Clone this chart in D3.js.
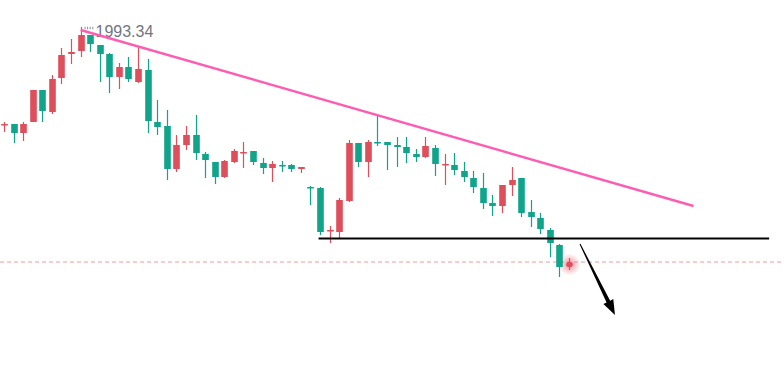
<!DOCTYPE html>
<html>
<head>
<meta charset="utf-8">
<script src="https://cdn.jsdelivr.net/npm/d3@7"></script>
<style>
  html, body { margin: 0; padding: 0; background: #fff; }
  svg { display: block; }
</style>
</head>
<body>
<svg id="chart" width="784" height="388"></svg>
<script>
const open = [1944.3, 1944.8, 1940.3, 1945.8, 1961.8, 1950.8, 1967.8, 1979.8, 1981.3, 1989.3,
  1984.3, 1979.8, 1968.3, 1973.3, 1965.8, 1971.8, 1945.8, 1943.8, 1922.3, 1934.3,
  1939.3, 1929.8, 1925.8, 1918.3, 1925.8, 1930.3, 1931.3, 1925.3, 1922.8, 1924.3,
  1924.3, 1922.3, 1913.3, 1912.8, 1891.3, 1890.8, 1906.3, 1935.3, 1925.8, 1935.8,
  1935.8, 1934.3, 1933.3, 1929.8, 1928.3, 1932.8, 1924.3, 1924.3, 1921.3, 1917.8,
  1912.8, 1905.3, 1903.8, 1914.3, 1917.8, 1900.8, 1897.8, 1891.8, 1884.3, 1873.3];
const high = [1945.8, 1944.8, 1945.8, 1961.8, 1961.8, 1969.3, 1982.8, 1987.3, 1993.34, 1989.3,
  1984.3, 1980.3, 1975.3, 1978.3, 1983.3, 1977.3, 1956.8, 1951.8, 1939.3, 1943.8,
  1949.3, 1930.8, 1925.8, 1926.8, 1932.3, 1935.8, 1931.3, 1927.8, 1926.3, 1926.3,
  1924.8, 1923.3, 1913.8, 1913.3, 1893.8, 1907.8, 1936.8, 1935.3, 1936.8, 1948.8,
  1935.8, 1938.3, 1938.3, 1932.3, 1938.3, 1934.3, 1929.8, 1930.3, 1925.8, 1921.3,
  1920.3, 1909.3, 1914.3, 1923.3, 1917.8, 1906.8, 1900.3, 1892.8, 1884.8, 1877.8];
const low = [1940.8, 1935.3, 1936.3, 1945.8, 1945.8, 1949.8, 1964.8, 1974.8, 1978.3, 1980.8,
  1965.8, 1960.3, 1962.3, 1965.8, 1965.3, 1940.3, 1939.3, 1916.8, 1920.8, 1931.8,
  1926.8, 1917.8, 1914.8, 1917.8, 1925.3, 1922.8, 1924.3, 1919.8, 1915.8, 1920.8,
  1920.8, 1920.3, 1904.3, 1889.3, 1885.3, 1887.8, 1905.8, 1923.3, 1918.3, 1933.8,
  1921.8, 1923.3, 1925.3, 1925.8, 1927.8, 1918.8, 1914.3, 1919.3, 1915.8, 1910.3,
  1902.3, 1898.8, 1900.3, 1908.8, 1898.3, 1893.3, 1889.8, 1878.3, 1868.3, 1871.8];
const close = [1944.8, 1940.3, 1944.8, 1961.8, 1951.3, 1967.3, 1979.3, 1980.8, 1989.3, 1984.8,
  1979.8, 1968.3, 1973.3, 1967.3, 1972.3, 1946.3, 1943.3, 1922.3, 1934.3, 1939.3,
  1930.3, 1926.8, 1918.3, 1926.3, 1931.3, 1930.8, 1925.8, 1922.8, 1924.8, 1923.8,
  1922.3, 1923.3, 1912.8, 1890.8, 1891.8, 1906.8, 1935.3, 1925.8, 1935.8, 1935.3,
  1934.3, 1933.3, 1930.3, 1928.3, 1933.8, 1924.8, 1924.8, 1921.8, 1918.3, 1913.3,
  1905.3, 1903.8, 1914.3, 1916.8, 1900.3, 1898.3, 1892.3, 1885.3, 1873.3, 1875.8];

// drawings: [bar index, price]
const trendLine = [[8, 1991.8], [72, 1903.8]];
const supportLine = [[32.85, 1887.55], [79.9, 1887.55]];
const arrowLine = [[60.15, 1884.8], [63.8, 1849.3]];

const upColor = '#df4e5b';
const downColor = '#10a58a';

const svg = d3.select('#chart');
const x = d3.scaleLinear().domain([0, 59]).range([4, 569]);
const y = d3.scaleLinear().domain([1812.8, 2006.8]).range([388, 0]);

const bars = open.map((o, i) => ({ i, o, h: high[i], l: low[i], c: close[i] }));
const bodyW = 6.6;
const lastClose = close[close.length - 1];

// last price dashed line
svg.append('line')
  .attr('x1', 0).attr('x2', 784)
  .attr('y1', y(lastClose)).attr('y2', y(lastClose))
  .attr('stroke', '#f19a9f')
  .attr('stroke-width', 1)
  .attr('stroke-dasharray', '4,3');

// glow on the live candle
const defs = svg.append('defs');
const grad = defs.append('radialGradient').attr('id', 'glow');
grad.append('stop').attr('offset', '0%').attr('stop-color', '#ef5360').attr('stop-opacity', 0.6);
grad.append('stop').attr('offset', '45%').attr('stop-color', '#ef5360').attr('stop-opacity', 0.35);
grad.append('stop').attr('offset', '100%').attr('stop-color', '#ef5360').attr('stop-opacity', 0);
const last = bars[bars.length - 1];
svg.append('circle')
  .attr('cx', Math.round(x(last.i)) + 0.5)
  .attr('cy', y((last.o + last.c) / 2))
  .attr('r', 11)
  .attr('fill', 'url(#glow)');

// candles
const g = svg.append('g');
g.selectAll('.wick')
  .data(bars)
  .enter()
  .append('line')
  .attr('class', 'wick')
  .attr('x1', d => Math.round(x(d.i)) + 0.5)
  .attr('x2', d => Math.round(x(d.i)) + 0.5)
  .attr('y1', d => y(d.h))
  .attr('y2', d => y(d.l))
  .attr('stroke', d => d.c >= d.o ? upColor : downColor)
  .attr('stroke-width', 1.2);

g.selectAll('.body')
  .data(bars)
  .enter()
  .append('rect')
  .attr('class', 'body')
  .attr('x', d => Math.round(x(d.i)) + 0.5 - bodyW / 2)
  .attr('y', d => y(Math.max(d.o, d.c)))
  .attr('width', bodyW)
  .attr('height', d => Math.max(1.5, Math.abs(y(d.o) - y(d.c))))
  .attr('rx', (d, i) => i === bars.length - 1 ? 2 : 0)
  .attr('fill', d => d.c >= d.o ? upColor : downColor);

// high label
const hiIdx = d3.maxIndex(high);
const hx = Math.round(x(hiIdx)) + 0.5;
const hy = y(high[hiIdx]);
svg.append('line')
  .attr('x1', hx + 3).attr('x2', hx + 13)
  .attr('y1', hy + 1).attr('y2', hy + 1)
  .attr('stroke', '#8a8d96')
  .attr('stroke-width', 2.5)
  .attr('stroke-dasharray', '1,1.6');
svg.append('text')
  .attr('x', hx + 14)
  .attr('y', hy + 10.5)
  .attr('fill', '#72757f')
  .attr('font-family', 'Liberation Sans, Arial, sans-serif')
  .attr('font-size', 16)
  .text(d3.format('.2f')(high[hiIdx]));

// trend line
svg.append('line')
  .attr('x1', x(trendLine[0][0])).attr('y1', y(trendLine[0][1]))
  .attr('x2', x(trendLine[1][0])).attr('y2', y(trendLine[1][1]))
  .attr('stroke', '#fd5db1')
  .attr('stroke-width', 2.4);

// horizontal support
svg.append('line')
  .attr('x1', x(supportLine[0][0])).attr('y1', y(supportLine[0][1]))
  .attr('x2', x(supportLine[1][0])).attr('y2', y(supportLine[1][1]))
  .attr('stroke', '#000')
  .attr('stroke-width', 2);

// arrow, tapered shaft
const ax0 = x(arrowLine[0][0]), ay0 = y(arrowLine[0][1]);
const ax1 = x(arrowLine[1][0]), ay1 = y(arrowLine[1][1]);
const len = Math.hypot(ax1 - ax0, ay1 - ay0);
const ux = (ax1 - ax0) / len, uy = (ay1 - ay0) / len;
const nx = -uy, ny = ux;
const headLen = 15, headW = 5.5, w0 = 0.5, w1 = 2;
const bx = ax1 - ux * headLen, by = ay1 - uy * headLen;
const pts = [
  [ax0 + nx * w0, ay0 + ny * w0],
  [bx + nx * w1, by + ny * w1],
  [bx + nx * headW, by + ny * headW],
  [ax1, ay1],
  [bx - nx * headW, by - ny * headW],
  [bx - nx * w1, by - ny * w1],
  [ax0 - nx * w0, ay0 - ny * w0]
];
svg.append('path')
  .attr('d', d3.line()(pts) + 'Z')
  .attr('fill', '#000');
</script>
</body>
</html>
